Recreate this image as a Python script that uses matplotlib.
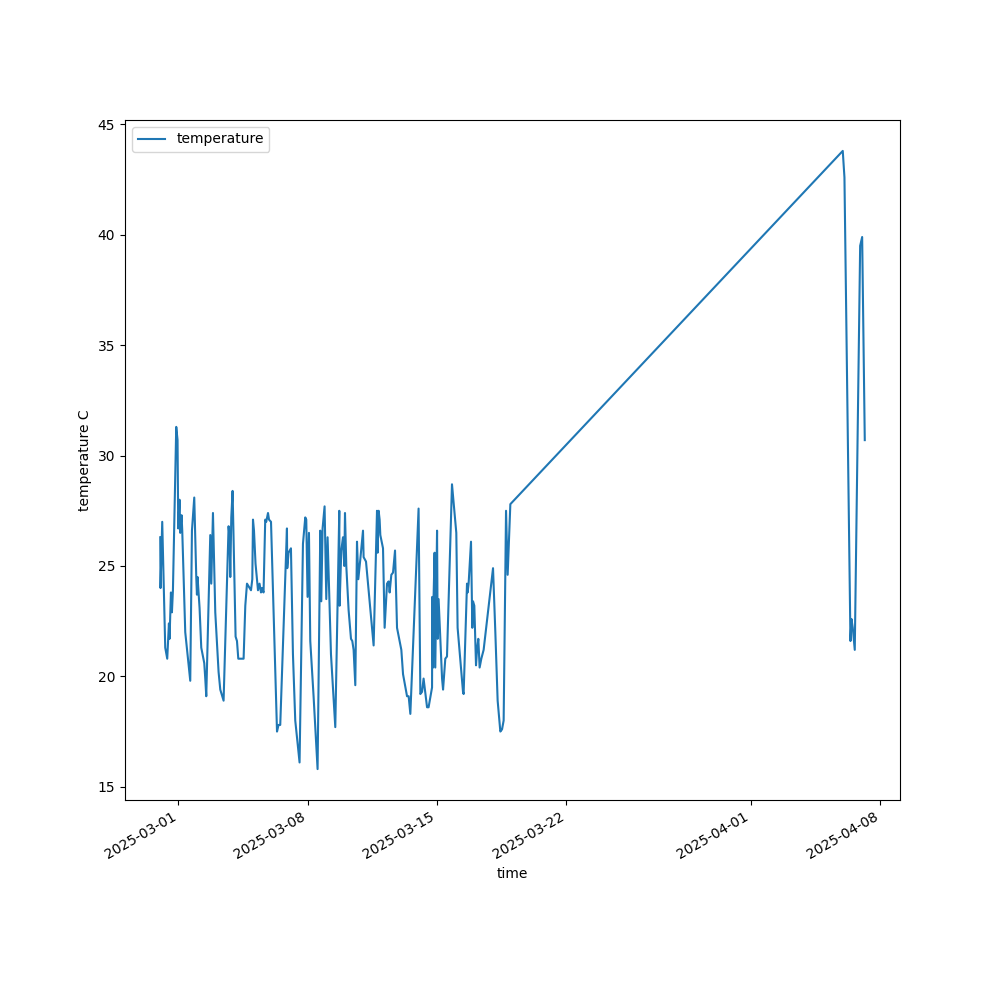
import pandas as pd
from matplotlib import pyplot as plt

# readings (time, temperature C)
times = [
    '2025-02-28 00:36', '2025-02-28 01:00', '2025-02-28 03:12', '2025-02-28 07:06',
    '2025-02-28 09:42', '2025-02-28 11:54', '2025-02-28 12:42', '2025-02-28 14:30',
    '2025-02-28 15:48', '2025-02-28 17:06', '2025-02-28 21:24', '2025-02-28 23:06',
    '2025-03-01 00:00', '2025-03-01 01:42', '2025-03-01 02:36', '2025-03-01 04:18',
    '2025-03-01 05:12', '2025-03-01 09:06', '2025-03-01 15:36', '2025-03-01 17:48',
    '2025-03-01 20:48', '2025-03-01 23:24', '2025-03-02 00:18', '2025-03-02 01:06',
    '2025-03-02 03:42', '2025-03-02 05:54', '2025-03-02 09:48', '2025-03-02 11:06',
    '2025-03-02 12:24', '2025-03-02 17:36', '2025-03-02 18:54', '2025-03-02 21:06',
    '2025-03-03 00:06', '2025-03-03 04:24', '2025-03-03 06:36', '2025-03-03 10:54',
    '2025-03-03 17:24', '2025-03-03 18:42', '2025-03-03 19:36', '2025-03-03 20:54',
    '2025-03-03 22:36', '2025-03-04 02:30', '2025-03-04 04:18', '2025-03-04 06:00',
    '2025-03-04 12:54', '2025-03-04 15:06', '2025-03-04 17:18', '2025-03-04 22:30',
    '2025-03-05 00:12', '2025-03-05 01:06', '2025-03-05 02:24', '2025-03-05 04:24',
    '2025-03-05 07:36', '2025-03-05 09:36', '2025-03-05 11:30', '2025-03-05 12:48',
    '2025-03-05 14:48', '2025-03-05 17:00', '2025-03-05 18:18', '2025-03-05 20:36',
    '2025-03-05 21:54', '2025-03-06 00:30', '2025-03-06 08:18', '2025-03-06 10:18',
    '2025-03-06 12:30', '2025-03-06 21:12', '2025-03-06 21:36', '2025-03-06 23:18',
    '2025-03-07 02:24', '2025-03-07 05:00', '2025-03-07 08:00', '2025-03-07 13:36',
    '2025-03-07 18:00', '2025-03-07 21:00', '2025-03-07 22:18', '2025-03-08 00:00',
    '2025-03-08 01:48', '2025-03-08 03:30', '2025-03-08 07:48', '2025-03-08 13:00',
    '2025-03-08 16:30', '2025-03-08 17:48', '2025-03-08 19:30', '2025-03-08 22:06',
    '2025-03-09 00:18', '2025-03-09 02:00', '2025-03-09 06:24', '2025-03-09 12:00',
    '2025-03-09 17:12', '2025-03-09 17:36', '2025-03-09 19:48', '2025-03-09 22:00',
    '2025-03-09 23:42', '2025-03-10 00:36', '2025-03-10 02:18', '2025-03-10 05:18',
    '2025-03-10 08:24', '2025-03-10 10:06', '2025-03-10 11:48', '2025-03-10 14:00',
    '2025-03-10 16:12', '2025-03-10 17:54', '2025-03-10 20:30', '2025-03-11 00:00',
    '2025-03-11 00:48', '2025-03-11 03:54', '2025-03-11 13:48', '2025-03-11 18:12',
    '2025-03-11 19:00', '2025-03-11 20:18', '2025-03-11 21:36', '2025-03-11 22:30',
    '2025-03-12 02:00', '2025-03-12 04:06', '2025-03-12 07:12', '2025-03-12 09:18',
    '2025-03-12 10:36', '2025-03-12 12:48', '2025-03-12 15:00', '2025-03-12 17:36',
    '2025-03-12 20:12', '2025-03-13 01:48', '2025-03-13 04:00', '2025-03-13 09:12',
    '2025-03-13 11:18', '2025-03-13 13:30', '2025-03-14 00:12', '2025-03-14 02:30',
    '2025-03-14 04:42', '2025-03-14 06:42', '2025-03-14 11:12', '2025-03-14 13:12',
    '2025-03-14 17:42', '2025-03-14 18:00', '2025-03-14 19:00', '2025-03-14 19:42',
    '2025-03-14 21:00', '2025-03-14 21:54', '2025-03-15 00:12', '2025-03-15 01:00',
    '2025-03-15 02:12', '2025-03-15 06:42', '2025-03-15 08:00', '2025-03-15 10:54',
    '2025-03-15 13:06', '2025-03-15 19:36', '2025-03-16 01:12', '2025-03-16 02:54',
    '2025-03-16 09:54', '2025-03-16 10:42', '2025-03-16 15:06', '2025-03-16 15:54',
    '2025-03-16 17:12', '2025-03-16 20:18', '2025-03-16 22:00', '2025-03-16 22:54',
    '2025-03-17 00:36', '2025-03-17 02:48', '2025-03-17 04:06', '2025-03-17 05:48',
    '2025-03-17 07:30', '2025-03-17 09:42', '2025-03-17 12:42', '2025-03-18 00:54',
    '2025-03-18 03:54', '2025-03-18 06:54', '2025-03-18 10:24', '2025-03-18 12:36',
    '2025-03-18 14:42', '2025-03-18 17:48', '2025-03-18 19:54', '2025-03-18 23:24',
    '2025-04-05 23:12', '2025-04-06 01:24', '2025-04-06 09:12', '2025-04-06 10:30',
    '2025-04-06 12:12', '2025-04-06 14:48', '2025-04-06 21:48', '2025-04-07 00:24',
    '2025-04-07 03:48',
]
temperature = [
    26.3, 24.0, 27.0, 21.3, 20.8, 22.4, 21.7, 23.8, 22.9, 23.9, 31.3, 30.7,
    26.7, 28.0, 26.5, 27.3, 26.6, 22.0, 19.8, 26.6, 28.1, 24.5, 23.7, 24.5,
    23.1, 21.3, 20.6, 19.9, 19.1, 26.4, 24.2, 27.4, 22.9, 20.2, 19.4, 18.9,
    26.8, 26.3, 24.5, 27.2, 28.4, 21.8, 21.6, 20.8, 20.8, 23.2, 24.2, 23.9,
    24.4, 27.1, 26.6, 25.1, 23.9, 24.2, 23.8, 24.0, 23.8, 27.1, 27.0, 27.4,
    27.1, 27.0, 17.5, 17.8, 17.8, 26.7, 24.9, 25.6, 25.8, 21.0, 18.0, 16.1,
    26.0, 27.2, 27.1, 23.6, 26.5, 21.6, 19.1, 15.8, 26.6, 23.4, 26.7, 27.7,
    23.5, 26.3, 21.0, 17.7, 27.5, 23.2, 25.7, 26.3, 25.0, 27.4, 25.0, 23.0,
    21.7, 21.6, 21.2, 19.6, 26.1, 24.4, 25.3, 26.6, 25.4, 25.2, 21.4, 27.5,
    25.6, 27.5, 27.1, 26.4, 25.8, 22.2, 24.2, 24.3, 23.8, 24.6, 24.7, 25.7,
    22.2, 21.2, 20.1, 19.1, 19.1, 18.3, 27.6, 19.2, 19.3, 19.9, 18.6, 18.6,
    19.5, 23.6, 20.4, 23.6, 25.6, 20.4, 26.6, 21.7, 23.5, 19.9, 19.4, 20.8,
    20.9, 28.7, 26.5, 22.2, 19.3, 19.2, 24.2, 23.8, 24.2, 26.1, 22.2, 23.4,
    23.2, 20.5, 21.2, 21.7, 20.4, 20.8, 21.2, 24.9, 22.0, 18.9, 17.5, 17.6,
    18.0, 27.5, 24.6, 27.8,
    43.8, 42.6, 21.6, 22.6, 22.2, 21.2, 39.5, 39.9, 30.7,
]

df = pd.DataFrame({'time': pd.to_datetime(times), 'temperature': temperature})

fig = plt.figure(figsize=(10, 10), dpi=100)
ax = fig.add_subplot()
ax.plot(df['time'], df['temperature'], label='temperature')
ax.set_xlabel('time')
ax.set_ylabel('temperature C')
ax.legend(loc='upper left')
fig.autofmt_xdate()
fig.savefig('out.png')
